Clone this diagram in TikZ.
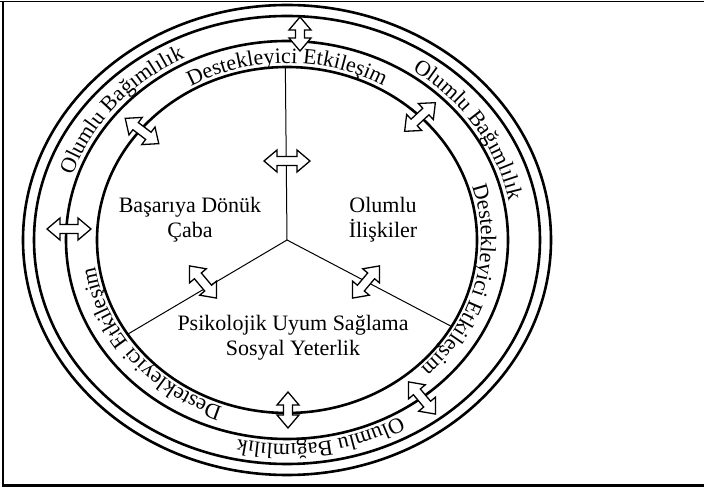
\documentclass[tikz,border=0pt]{standalone}
\usepackage{fontspec}
\setmainfont{Liberation Serif}
\usetikzlibrary{decorations.text}
\newcommand{\ringfont}{\fontsize{22}{22}\selectfont}

\begin{document}
\begin{tikzpicture}[x=1pt,y=1pt,
  ring/.style={line width=2.6pt},
  spoke/.style={line width=1pt},
  part/.style={font=\fontsize{22}{25}\selectfont,align=center,inner sep=0pt},
  ringtext/.style={decorate,decoration={text along path,text align=center,
    text={|\ringfont|#1}}},
  dblarrow/.pic={\draw[line width=1.3pt,fill=white]
    (-#1,0) -- (-#1+13,11) -- (-#1+13,4.5) -- (#1-13,4.5) -- (#1-13,11) -- (#1,0)
    -- (#1-13,-11) -- (#1-13,-4.5) -- (-#1+13,-4.5) -- (-#1+13,-11) -- cycle;}]
\useasboundingbox (0,0) rectangle (704,492);
% frame
\draw[line width=1.8pt] (0,490.5) -- (704,490.5);
\draw[line width=2.2pt] (3,490.5) -- (3,6.5) -- (704,6.5);

\coordinate (O) at (287,252);
\path (O) ++(90.5:190pt and 173pt) coordinate (sT);
\path (O) ++(-147:190pt and 173pt) coordinate (sL);
\path (O) ++(-30:190pt and 173pt) coordinate (sR);
\draw[spoke] (O) -- (sT);
\draw[spoke] (O) -- (sL);
\draw[spoke] (O) -- (sR);

% rings
\draw[ring] (O) ellipse [x radius=190pt, y radius=173pt];
\draw[ring] (O) ellipse [x radius=221pt, y radius=199pt];
\draw[ring] (O) ellipse [x radius=253pt, y radius=224pt];
\draw[ring] (O) ellipse [x radius=264pt, y radius=235pt];

% arrows
\pic[rotate=90] at (300,458) {dblarrow=17};
\pic[rotate=90] at (288,82) {dblarrow=18};
\pic at (69,263) {dblarrow=22};
\pic[rotate=143] at (142,361) {dblarrow=21};
\pic[rotate=43] at (420,375) {dblarrow=21};
\pic[rotate=-50] at (422,94) {dblarrow=21};
\pic at (287,331) {dblarrow=23};
\pic[rotate=-50] at (203,210) {dblarrow=21};
\pic[rotate=50] at (366,210) {dblarrow=21};

% ring texts
\path[ringtext=Olumlu Bağımlılık] (O) ++(180:226pt and 204pt)
  arc[start angle=180, end angle=100, x radius=226pt, y radius=204pt];
\path[ringtext=Olumlu Bağımlılık] (O) ++(73:226pt and 204pt)
  arc[start angle=73, end angle=-7, x radius=226pt, y radius=204pt];
\path[ringtext=Olumlu Bağımlılık] (O) ++(-41:226pt and 204pt)
  arc[start angle=-41, end angle=-121, x radius=226pt, y radius=204pt];
\path[ringtext=Destekleyici Etkileşim] (O) ++(135:194pt and 177pt)
  arc[start angle=135, end angle=45, x radius=194pt, y radius=177pt];
\path[ringtext=Destekleyici Etkileşim] (O) ++(31:194pt and 177pt)
  arc[start angle=31, end angle=-59, x radius=194pt, y radius=177pt];
\path[ringtext=Destekleyici Etkileşim] (O) ++(-96:194pt and 177pt)
  arc[start angle=-96, end angle=-186, x radius=194pt, y radius=177pt];

\node[part] (basari) at (190,272) {Başarıya Dönük\\Çaba};
\node[part] (iliski) at (383,272) {Olumlu\\İlişkiler};
\node[part] (uyum) at (293,154) {Psikolojik Uyum Sağlama\\Sosyal Yeterlik};
\end{tikzpicture}
\end{document}
